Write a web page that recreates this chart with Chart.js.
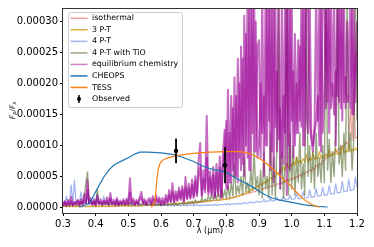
<!DOCTYPE html>
<html>
<head>
<meta charset="utf-8">
<script src="https://cdn.jsdelivr.net/npm/chart.js@4.4.0/dist/chart.umd.min.js"></script>
<style>
  html, body { margin: 0; padding: 0; background: #fff; }
</style>
</head>
<body>
<canvas id="spectrumChart" width="374" height="247"></canvas>
<script>
// all fluxes are F_p/F_s in units of 1e-5
const wavelength = [
  0.300,0.305,0.310,0.315,0.320,0.325,0.330,0.335,0.340,0.345,0.350,0.355,0.360,0.365,0.370,0.375,0.380,0.385,0.390,0.395,
  0.400,0.405,0.410,0.415,0.420,0.425,0.430,0.435,0.440,0.445,0.450,0.455,0.460,0.465,0.470,0.475,0.480,0.485,0.490,0.495,
  0.500,0.505,0.510,0.515,0.520,0.525,0.530,0.535,0.540,0.545,0.550,0.555,0.560,0.565,0.570,0.575,0.580,0.585,0.590,0.595,
  0.600,0.605,0.610,0.615,0.620,0.625,0.630,0.635,0.640,0.645,0.650,0.655,0.660,0.665,0.670,0.675,0.680,0.685,0.690,0.695,
  0.700,0.705,0.710,0.715,0.720,0.725,0.730,0.735,0.740,0.745,0.750,0.755,0.760,0.765,0.770,0.775,0.780,0.785,0.790,0.795,
  0.800,0.805,0.810,0.815,0.820,0.825,0.830,0.835,0.840,0.845,0.850,0.855,0.860,0.865,0.870,0.875,0.880,0.885,0.890,0.895,
  0.900,0.905,0.910,0.915,0.920,0.925,0.930,0.935,0.940,0.945,0.950,0.955,0.960,0.965,0.970,0.975,0.980,0.985,0.990,0.995,
  1.000,1.005,1.010,1.015,1.020,1.025,1.030,1.035,1.040,1.045,1.050,1.055,1.060,1.065,1.070,1.075,1.080,1.085,1.090,1.095,
  1.100,1.105,1.110,1.115,1.120,1.125,1.130,1.135,1.140,1.145,1.150,1.155,1.160,1.165,1.170,1.175,1.180,1.185,1.190,1.195,
  1.200
];

const isothermalFlux = [
  0.1,0.2,0.1,0.2,0.1,0.2,0.1,0.2,0.1,0.2,0.1,0.2,0.1,0.2,0.1,0.2,0.1,0.2,0.1,0.2,
  0.1,0.2,0.1,0.2,0.1,0.2,0.1,0.2,0.1,0.2,0.1,0.2,0.1,0.2,0.2,0.3,0.2,0.3,0.2,0.3,
  0.2,0.3,0.2,0.3,0.2,0.3,0.2,0.3,0.3,0.4,0.3,0.4,0.3,0.4,0.3,0.4,0.3,0.4,0.4,0.5,
  0.4,0.5,0.4,0.5,0.4,0.5,0.5,0.6,0.5,0.6,0.5,0.6,0.6,0.7,0.6,0.7,0.6,0.7,0.6,0.7,
  0.6,0.7,0.7,0.8,0.8,0.8,0.9,0.9,0.9,1.0,1.0,1.0,1.1,1.1,1.1,1.2,1.2,1.2,1.3,1.3,
  1.3,1.5,1.4,1.6,1.5,1.7,1.7,1.9,1.8,2.0,2.0,2.2,2.1,2.3,2.2,2.5,2.4,2.6,2.5,2.8,
  2.7,2.9,2.8,3.1,3.0,3.3,3.1,3.5,3.3,3.6,3.5,3.8,3.7,4.0,3.8,4.2,4.0,4.5,4.2,4.6,
  4.4,4.8,4.6,5.0,4.8,5.3,5.0,5.5,5.3,5.8,5.6,6.1,5.8,6.4,6.1,6.8,6.5,7.1,6.9,7.5,
  7.6,8.0,7.9,8.4,8.2,8.8,8.6,9.2,9.0,9.6,9.4,10.0,9.8,10.5,10.2,11.0,16.0,10.8,19.0,11.2,
  11.3
];

const threePTFlux = [
  0.1,0.2,0.1,0.2,0.1,0.2,0.1,0.2,0.1,0.2,0.1,0.2,0.1,0.2,0.1,0.2,0.1,0.2,0.1,0.2,
  0.1,0.2,0.1,0.2,0.1,0.2,0.1,0.2,0.1,0.2,0.2,0.3,0.2,0.3,0.2,0.3,0.2,0.3,0.2,0.3,
  0.2,0.3,0.2,0.3,0.2,0.3,0.2,0.3,0.2,0.3,0.3,0.4,0.3,0.4,0.3,0.4,0.3,0.4,0.3,0.4,
  0.3,0.4,0.4,0.5,0.4,0.5,0.5,0.6,0.5,0.6,0.6,0.7,0.6,0.7,0.7,0.8,0.7,0.8,0.8,0.9,
  0.8,0.9,0.8,0.9,0.9,1.0,0.9,1.0,1.0,1.1,1.0,1.1,1.1,1.2,1.1,1.2,1.1,1.3,1.2,1.3,
  1.2,1.4,1.3,1.6,1.5,1.7,1.6,1.9,1.8,2.1,2.0,2.3,2.2,2.6,2.4,2.9,2.7,3.2,3.0,3.5,
  3.3,3.8,3.6,4.1,3.9,4.4,4.2,4.8,4.5,5.2,4.9,5.6,5.3,6.3,5.6,6.6,5.9,7.2,6.3,7.0,
  6.6,7.4,6.8,8.2,7.0,7.6,7.1,7.9,7.3,8.5,7.4,7.9,7.6,8.8,7.7,8.1,7.8,9.0,7.9,8.3,
  8.0,8.6,8.1,9.3,8.2,8.7,8.4,9.5,8.5,8.9,8.6,9.8,8.8,9.1,8.9,10.3,9.0,9.4,9.1,9.6,
  9.2
];

const fourPTFlux = [
  0.8,0.5,1.8,0.6,0.7,3.6,0.6,4.4,0.7,0.9,0.6,2.5,0.6,0.8,0.5,2.0,0.6,0.7,0.5,1.5,
  0.5,1.9,0.6,0.7,0.4,1.8,0.5,0.6,0.4,1.5,0.5,0.6,0.4,1.1,0.5,0.6,0.4,1.0,0.5,0.6,
  0.4,0.9,0.3,0.5,0.4,0.8,0.3,0.5,0.4,0.7,0.3,0.5,0.4,0.7,0.3,0.5,0.3,0.6,0.3,0.4,
  0.2,0.4,0.3,0.4,0.2,0.4,0.3,0.4,0.2,0.4,0.3,0.4,0.2,0.4,0.3,0.4,0.2,0.4,0.3,0.4,
  0.2,0.4,0.3,0.4,0.2,0.4,0.3,0.4,0.3,0.4,0.3,0.4,0.3,0.5,0.3,0.4,0.4,0.5,0.4,0.5,
  0.4,0.6,0.4,0.5,0.5,0.6,0.5,0.7,0.5,0.6,0.6,0.8,0.6,0.7,0.7,0.9,0.7,0.8,0.8,1.0,
  0.8,0.9,0.9,1.3,0.9,1.0,1.0,1.4,1.0,1.1,1.1,1.6,1.1,1.2,1.2,1.7,1.2,1.3,1.3,1.9,
  1.3,1.3,1.4,2.2,1.4,1.4,1.5,2.5,1.5,1.5,1.6,2.8,1.6,1.7,1.7,3.0,1.8,1.8,1.9,3.2,
  1.9,2.0,2.0,3.5,2.1,2.2,2.2,3.8,2.3,2.4,2.4,4.2,2.5,2.6,2.6,4.5,2.7,2.8,2.9,4.9,
  3.3
];

const fourPTTiOFlux = [
  0.2,0.6,0.3,0.5,0.2,0.7,0.3,0.6,0.2,0.5,0.3,0.8,0.4,1.5,3.9,5.7,0.6,1.2,0.4,0.9,
  0.3,2.9,0.4,0.7,0.3,0.6,0.4,0.8,0.3,0.6,0.4,0.7,0.3,0.6,0.4,0.8,0.3,0.5,0.4,0.6,
  0.3,0.7,0.4,0.6,0.3,0.8,0.4,0.6,0.3,0.7,0.4,0.6,0.3,0.5,0.4,0.6,0.3,0.5,0.3,0.6,
  0.3,0.5,0.3,0.6,0.4,0.5,0.3,0.6,0.4,0.7,0.3,0.6,0.5,0.8,0.4,0.7,0.5,0.9,0.6,1.0,
  0.6,1.2,0.7,1.0,0.8,1.5,0.9,1.3,1.0,1.8,1.1,2.0,1.2,2.5,1.3,2.2,1.4,3.0,1.5,2.8,
  1.5,3.5,1.6,4.0,1.8,7.0,2.0,3.5,2.2,5.0,2.0,8.0,2.5,4.0,2.4,6.0,2.8,9.0,3.0,5.0,
  2,6,1.5,9,3,5,1.5,12,2,8,1.5,10,35,3,9,1.5,7,35,2,12,
  3,10,2,8,4,12,3,7,2,35,5,10,4,9,3,12,5,8,4,10,
  4,35,6,11,4,9,5,13,35,7,10,5,12,6,35,9,12,6,11,35,
  14
];

const equilibriumFlux = [
  0.2,1.0,0.3,1.2,0.4,1.7,0.3,0.9,0.5,1.1,0.4,1.3,0.6,2.2,0.8,4.4,0.7,1.5,0.5,1.2,
  0.4,2.0,0.6,1.3,0.5,1.1,0.7,1.6,0.5,2.3,0.6,1.2,0.5,1.5,0.4,1.1,0.6,1.3,0.5,1.4,
  0.6,4.7,0.7,1.4,0.5,1.2,0.6,1.7,2.5,0.7,1.3,0.5,1.2,1.5,0.6,1.8,0.7,2.0,0.8,1.6,
  0.5,1.5,0.6,2.0,0.8,2.8,1.0,3.9,0.9,2.6,1.2,3.2,1.4,3.4,1.0,4.9,1.5,3.8,1.6,4.5,
  1.8,5.0,2.2,7.6,10.4,2.0,6.0,3.0,14.8,2.5,5.8,2.2,6.5,1.8,7.0,2.4,8.2,1.7,9.2,12.5,
  3,19,4,18,6,21,5,24,8,26,7,31,10,35,6,35,12,35,9,26,
  27,8,35,5,35,10,35,6,35,4,35,9,35,3,35,7,35,2,35,6,
  35,8,28,12,27,14,35,10,35,15,12,35,12,10,13,35,14,35,9,35,
  35,16,35,12,35,18,35,10,35,17,35,14,35,16,30,18,35,15,33,17,
  30
];

// second equilibrium-chemistry curve (overplotted, not in legend)
const equilibriumFluxB = [
  0.3,0.8,0.2,0.9,0.4,1.0,0.3,0.8,0.5,1.2,0.3,0.9,0.4,1.1,0.6,2.8,0.5,1.0,0.4,0.9,
  0.3,1.2,0.5,0.9,0.4,1.0,0.5,1.1,0.4,1.4,0.5,0.9,0.4,1.2,0.3,0.8,0.5,1.0,0.4,1.1,
  0.5,2.4,0.6,1.0,0.4,0.9,0.5,1.3,1.6,0.6,1.0,0.4,0.9,1.1,0.5,1.2,0.6,1.4,0.7,1.2,
  0.4,1.0,0.5,1.4,0.7,2.0,0.8,2.5,0.8,2.0,1.0,2.6,1.2,2.8,0.9,3.2,1.3,3.0,1.4,3.6,
  1.5,4.2,1.8,5.0,6.5,1.7,4.6,2.4,8.0,2.0,4.8,1.9,5.2,1.5,5.6,2.0,6.4,1.5,7.0,9.0,
  14,3,12,4,16,5,18,4,20,6,24,5,28,8,32,6,35,9,30,8,
  10,20,12,18,10,35,14,35,9,35,13,22,11,16,8,18,12,35,10,35,
  14,22,10,20,12,26,13,35,10,35,35,14,11,9,12,14,18,10,35,12,
  18,35,17,35,16,20,15,22,18,35,16,35,17,21,17,18,16,32,15,24,
  25
];

// bandpasses, scaled for display
const cheopsWave = [0.350,0.365,0.380,0.390,0.400,0.410,0.425,0.440,0.455,0.480,0.500,0.520,0.535,0.560,0.600,0.640,0.670,
  0.700,0.730,0.760,0.790,0.810,0.830,0.855,0.880,0.900,0.920,0.940,0.960,0.980,1.000,1.040,1.080,1.110];
const cheopsFlux = [0.0,0.3,0.7,1.5,2.5,3.5,4.9,6.0,6.8,7.5,8.0,8.6,8.9,8.9,8.8,8.5,8.0,
  7.4,6.6,6.1,5.8,5.3,4.7,4.0,3.3,2.6,2.0,1.5,1.2,1.0,0.8,0.4,0.15,0.05];
const tessWave = [0.570,0.578,0.582,0.585,0.588,0.592,0.597,0.605,0.612,0.630,0.650,0.700,0.750,0.800,0.840,0.865,
  0.880,0.895,0.910,0.925,0.940,0.955,0.970,0.985,0.995,1.010,1.025,1.040,1.060,1.080,1.085];
const tessFlux = [0.0,0.5,1.2,3.0,4.9,6.3,7.1,7.6,7.8,8.1,8.4,8.7,8.9,9.0,9.0,8.8,
  8.5,8.1,7.6,7.0,6.3,5.6,4.8,4.1,3.6,2.7,1.9,1.2,0.5,0.1,0.0];

// observed eclipse depths
const obsWave = [0.646, 0.796];
const obsFlux = [9.1, 6.8];
const obsErr = [2.0, 2.9];

const xTicks = [0.3, 0.4, 0.5, 0.6, 0.7, 0.8, 0.9, 1.0, 1.1, 1.2];

// styles
const colIso = 'rgba(214,39,40,0.45)';
const col3PT = 'rgba(218,165,32,0.85)';
const col4PT = 'rgba(65,105,225,0.5)';
const colTiO = 'rgba(85,107,47,0.6)';
const colEq = 'rgba(155,0,150,0.57)';
const colCheops = '#1f77b4';
const colTess = '#ff7f0e';

Chart.defaults.font.family = "'DejaVu Sans', sans-serif";
Chart.defaults.color = '#000';

function toPoints(xs, ys) {
    return xs.map((x, i) => ({ x: x, y: ys[i] }));
}

function spectrum(label, flux, color, order, width) {
    return {
        label: label,
        data: toPoints(wavelength, flux),
        borderColor: color,
        borderWidth: width || 1.2,
        borderJoinStyle: 'round',
        pointRadius: 0,
        tension: 0,
        clip: 0,
        order: order
    };
}

const datasets = [
    spectrum('isothermal', isothermalFlux, colIso, 9),
    spectrum('3 P-T', threePTFlux, col3PT, 8),
    spectrum('4 P-T', fourPTFlux, col4PT, 7),
    spectrum('4 P-T with TiO', fourPTTiOFlux, colTiO, 6, 1.4),
    spectrum('equilibrium chemistry', equilibriumFlux, colEq, 5, 2.0),
    spectrum('', equilibriumFluxB, colEq, 4.5, 2.0),
    { label: 'CHEOPS', data: toPoints(cheopsWave, cheopsFlux), borderColor: colCheops, borderWidth: 1.2,
      pointRadius: 0, clip: 0, order: 3 },
    { label: 'TESS', data: toPoints(tessWave, tessFlux), borderColor: colTess, borderWidth: 1.2,
      pointRadius: 0, clip: 0, order: 2 }
];

// error bars as short vertical segments
obsWave.forEach((w, i) => {
    datasets.push({
        label: '',
        data: [{ x: w, y: obsFlux[i] - obsErr[i] }, { x: w, y: obsFlux[i] + obsErr[i] }],
        borderColor: '#000',
        borderWidth: 1.8,
        pointRadius: 0,
        order: 1
    });
});
datasets.push({
    label: 'Observed',
    data: toPoints(obsWave, obsFlux),
    showLine: false,
    pointRadius: 2.2,
    pointBackgroundColor: '#000',
    pointBorderWidth: 0,
    order: 0
});

const legendEntries = [
    { label: 'isothermal', color: colIso },
    { label: '3 P-T', color: col3PT },
    { label: '4 P-T', color: col4PT },
    { label: '4 P-T with TiO', color: colTiO },
    { label: 'equilibrium chemistry', color: 'rgba(155,0,150,0.5)' },
    { label: 'CHEOPS', color: colCheops },
    { label: 'TESS', color: colTess },
    { label: 'Observed', color: '#000', errorbar: true }
];

// frame, legend box and y label drawn matplotlib-style
const mplDecor = {
    id: 'mplDecor',
    afterDatasetsDraw(chart) {
        const ctx = chart.ctx;
        const ca = chart.chartArea;
        ctx.save();

        ctx.strokeStyle = '#333';
        ctx.lineWidth = 1;
        ctx.strokeRect(ca.left - 0.5, ca.top + 0.5, ca.right - ca.left + 1, ca.bottom - ca.top);

        // legend
        const bx = ca.left + 5, by = ca.top + 4, bw = 114, bh = 95;
        ctx.beginPath();
        ctx.roundRect(bx + 0.5, by + 0.5, bw, bh, 2);
        ctx.fillStyle = 'rgba(255,255,255,0.8)';
        ctx.fill();
        ctx.strokeStyle = '#cccccc';
        ctx.stroke();

        ctx.font = "7.9px 'DejaVu Sans'";
        ctx.textBaseline = 'middle';
        legendEntries.forEach((e, k) => {
            const y = by + 6.3 + k * 11.53;
            if (e.errorbar) {
                ctx.strokeStyle = '#000';
                ctx.lineWidth = 1.5;
                ctx.beginPath();
                ctx.moveTo(79, y - 4);
                ctx.lineTo(79, y + 4);
                ctx.stroke();
                ctx.fillStyle = '#000';
                ctx.beginPath();
                ctx.arc(79, y, 2, 0, Math.PI * 2);
                ctx.fill();
            } else {
                ctx.strokeStyle = e.color;
                ctx.lineWidth = 1.5;
                ctx.beginPath();
                ctx.moveTo(70.5, y);
                ctx.lineTo(87.5, y);
                ctx.stroke();
            }
            ctx.fillStyle = '#000';
            ctx.textAlign = 'left';
            ctx.fillText(e.label, 92, y);
        });

        // y axis label F_p/F_s
        const parts = [
            { t: 'F', f: "italic 7.5px 'DejaVu Sans'", dy: 0 },
            { t: 'p', f: "italic 5.3px 'DejaVu Sans'", dy: 1.8 },
            { t: '/', f: "7.5px 'DejaVu Sans'", dy: 0 },
            { t: 'F', f: "italic 7.5px 'DejaVu Sans'", dy: 0 },
            { t: 's', f: "italic 5.3px 'DejaVu Sans'", dy: 1.8 }
        ];
        let total = 0;
        parts.forEach(p => { ctx.font = p.f; p.w = ctx.measureText(p.t).width; total += p.w; });
        ctx.translate(13, (ca.top + ca.bottom) / 2);
        ctx.rotate(-Math.PI / 2);
        let px = -total / 2;
        ctx.textAlign = 'left';
        ctx.textBaseline = 'middle';
        parts.forEach(p => {
            ctx.font = p.f;
            ctx.fillText(p.t, px, p.dy);
            px += p.w;
        });
        ctx.restore();
    }
};

new Chart(document.getElementById('spectrumChart').getContext('2d'), {
    type: 'line',
    data: { datasets: datasets },
    plugins: [mplDecor],
    options: {
        responsive: false,
        animation: false,
        events: [],
        layout: { padding: { top: 8, right: 17, bottom: 0, left: 0 } },
        plugins: { legend: { display: false }, tooltip: { enabled: false } },
        scales: {
            x: {
                type: 'linear',
                min: 0.3,
                max: 1.2,
                afterFit: s => { s.height = 34; },
                afterBuildTicks: s => { s.ticks = xTicks.map(v => ({ value: v })); },
                grid: { drawOnChartArea: false, drawTicks: true, tickLength: 3, color: '#000' },
                border: { display: false },
                ticks: {
                    padding: 2,
                    maxRotation: 0,
                    autoSkip: false,
                    font: { size: 10 },
                    color: '#000',
                    callback: v => v.toFixed(1)
                },
                title: {
                    display: true,
                    text: 'λ (μm)',
                    font: { size: 8 },
                    color: '#000',
                    padding: { top: 0, bottom: 11 }
                }
            },
            y: {
                type: 'linear',
                min: -0.92,
                max: 32.2,
                afterFit: s => { s.width = 63; },
                grid: { drawOnChartArea: false, drawTicks: true, tickLength: 3, color: '#000' },
                border: { display: false },
                ticks: {
                    stepSize: 5,
                    includeBounds: false,
                    padding: 2,
                    font: { size: 10 },
                    color: '#000',
                    callback: v => (v * 1e-5).toFixed(5)
                }
            }
        }
    }
});
</script>
</body>
</html>
